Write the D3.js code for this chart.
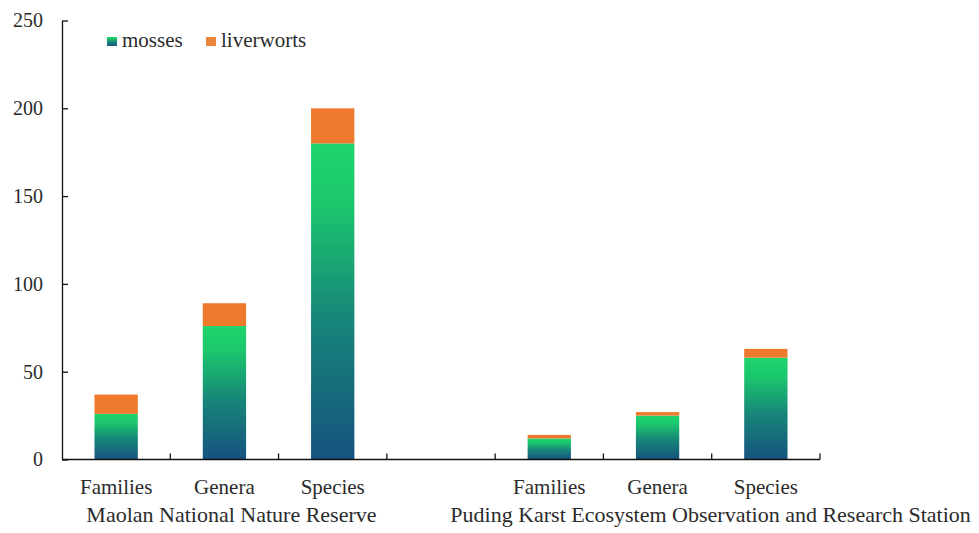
<!DOCTYPE html>
<html>
<head>
<meta charset="utf-8">
<script src="https://cdn.jsdelivr.net/npm/d3@7/dist/d3.min.js"></script>
<style>
  html, body { margin: 0; padding: 0; background: #fff; }
  svg text { font-family: "Liberation Serif", "DejaVu Serif", serif; }
</style>
</head>
<body>
<svg id="chart" width="979" height="533"></svg>
<script>
// Bryophyte taxa counts at two karst sites
const sites = ["Maolan National Nature Reserve", "Puding Karst Ecosystem Observation and Research Station"];
const ranks = ["Families", "Genera", "Species"];
const mossesMaolan = [26, 76, 180];
const liverwortsMaolan = [11, 13, 20];
const mossesPuding = [12, 25, 58];
const liverwortsPuding = [2, 2, 5];
const seriesNames = ["mosses", "liverworts"];
const yTicks = [0, 50, 100, 150, 200, 250];

const serif = "'Liberation Serif', 'DejaVu Serif', serif";

// Slots along the x axis: three ranks, an empty spacer slot, three ranks
const slots = [
  ...ranks.map((r, i) => ({ key: "M-" + r, rank: r, site: 0, mosses: mossesMaolan[i], liverworts: liverwortsMaolan[i] })),
  { key: "gap", rank: null },
  ...ranks.map((r, i) => ({ key: "P-" + r, rank: r, site: 1, mosses: mossesPuding[i], liverworts: liverwortsPuding[i] }))
];

const svg = d3.select("#chart");
const plotLeft = 62, plotRight = 820, plotTop = 20.5, plotBottom = 459.5;

const x = d3.scaleBand()
  .domain(slots.map(d => d.key))
  .range([plotLeft, plotRight])
  .paddingInner(0.6)
  .paddingOuter(0.3);

const y = d3.scaleLinear().domain([0, 250]).range([plotBottom, plotTop]);

// Gradient for the mosses segments: deep blue at the base to bright green on top
const defs = svg.append("defs");
const grad = defs.append("linearGradient")
  .attr("id", "mossGrad")
  .attr("x1", 0).attr("y1", 1).attr("x2", 0).attr("y2", 0);
[[0, "#16527f"], [0.45, "#178679"], [0.82, "#1cc86d"], [1, "#1ed46b"]].forEach(([o, c]) =>
  grad.append("stop").attr("offset", o).attr("stop-color", c));

const orange = "#ef7a2d";
const textColor = "#2b2b2b";

const bars = slots.filter(d => d.rank);

// mosses (bottom of stack)
svg.append("g").selectAll("rect")
  .data(bars)
  .join("rect")
  .attr("x", d => x(d.key))
  .attr("width", x.bandwidth())
  .attr("y", d => y(d.mosses))
  .attr("height", d => y(0) - y(d.mosses))
  .attr("fill", "url(#mossGrad)");

// liverworts stacked on top
svg.append("g").selectAll("rect")
  .data(bars)
  .join("rect")
  .attr("x", d => x(d.key))
  .attr("width", x.bandwidth())
  .attr("y", d => y(d.mosses + d.liverworts))
  .attr("height", d => y(d.mosses) - y(d.mosses + d.liverworts))
  .attr("fill", orange);

// Y axis with inward ticks
const yAxis = d3.axisLeft(y).tickValues(yTicks).tickSizeInner(-6).tickSizeOuter(0).tickPadding(19);
const gy = svg.append("g").attr("transform", `translate(${plotLeft},0)`).call(yAxis);
gy.attr("font-family", serif).attr("font-size", 20);
gy.select(".domain").attr("stroke", "#111").attr("stroke-width", 1.3);
gy.selectAll(".tick line").attr("stroke", "#111").attr("stroke-width", 1.3);
gy.selectAll(".tick text")
  .attr("font-size", 20)
  .attr("font-family", serif)
  .attr("fill", textColor);

// X axis: baseline with upward ticks at the slot boundaries
const gx = svg.append("g");
gx.append("line")
  .attr("x1", plotLeft).attr("x2", plotRight)
  .attr("y1", y(0)).attr("y2", y(0))
  .attr("stroke", "#111").attr("stroke-width", 1.3);
gx.selectAll("line.tk")
  .data(slots)
  .join("line")
  .attr("class", "tk")
  .attr("x1", d => x(d.key) + x.bandwidth() / 2 + x.step() / 2)
  .attr("x2", d => x(d.key) + x.bandwidth() / 2 + x.step() / 2)
  .attr("y1", y(0)).attr("y2", y(0) - 6)
  .attr("stroke", "#111").attr("stroke-width", 1.3);

// Rank labels under each bar
svg.append("g").selectAll("text")
  .data(bars)
  .join("text")
  .attr("x", d => x(d.key) + x.bandwidth() / 2)
  .attr("y", 494)
  .attr("text-anchor", "middle")
  .attr("font-family", serif)
  .attr("font-size", 21)
  .attr("fill", textColor)
  .text(d => d.rank);

// Site labels under each group of bars (the long second label sits further right)
const siteShift = [7, 53];
svg.append("g").selectAll("text")
  .data(sites)
  .join("text")
  .attr("x", (s, i) => {
    const keys = bars.filter(b => b.site === i).map(b => b.key);
    return (x(keys[0]) + x(keys[keys.length - 1]) + x.bandwidth()) / 2 + siteShift[i];
  })
  .attr("y", 522)
  .attr("text-anchor", "middle")
  .attr("font-family", serif)
  .attr("font-size", 22)
  .attr("fill", textColor)
  .text(d => d);

// Legend
const legendX = [107, 206];
const lg = svg.append("g").selectAll("g")
  .data(seriesNames)
  .join("g")
  .attr("transform", (d, i) => `translate(${legendX[i]},37)`);
lg.append("rect")
  .attr("width", 10).attr("height", 9)
  .attr("fill", (d, i) => i === 0 ? "url(#mossGrad)" : "#ea873a");
lg.append("text")
  .attr("x", 15).attr("y", 10)
  .attr("font-family", serif)
  .attr("font-size", 21)
  .attr("fill", textColor)
  .text(d => d);
</script>
</body>
</html>
